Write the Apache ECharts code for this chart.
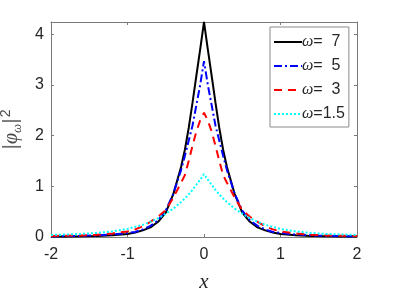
<!DOCTYPE html>
<html>
<head>
<meta charset="utf-8">
<script src="https://cdn.jsdelivr.net/npm/echarts@6/dist/echarts.min.js"></script>
<style>html,body{margin:0;padding:0;background:#fff;}#c{width:395px;height:296px;}</style>
</head>
<body>
<div id="c"></div>
<script>
const xs = [-2, -1.8, -1.6, -1.4, -1.2, -1, -0.9, -0.8, -0.7, -0.6, -0.5, -0.4, -0.3, -0.25, -0.2, -0.15, -0.1, -0.05, 0,
            0.05, 0.1, 0.15, 0.2, 0.25, 0.3, 0.4, 0.5, 0.6, 0.7, 0.8, 0.9, 1, 1.2, 1.4, 1.6, 1.8, 2];
const w7  = [0.01, 0.012, 0.016, 0.022, 0.035, 0.06, 0.09, 0.13, 0.19, 0.30, 0.48, 0.85, 1.38, 1.72, 2.15, 2.65, 3.18, 3.70, 4.24,
             3.70, 3.18, 2.65, 2.15, 1.72, 1.38, 0.85, 0.48, 0.30, 0.19, 0.13, 0.09, 0.06, 0.035, 0.022, 0.016, 0.012, 0.01];
const w5  = [0.015, 0.018, 0.023, 0.032, 0.05, 0.08, 0.10, 0.15, 0.22, 0.33, 0.52, 0.86, 1.32, 1.60, 1.90, 2.20, 2.60, 3.00, 3.47,
             3.00, 2.60, 2.20, 1.90, 1.60, 1.32, 0.86, 0.52, 0.33, 0.22, 0.15, 0.10, 0.08, 0.05, 0.032, 0.023, 0.018, 0.015];
const w3  = [0.02, 0.025, 0.032, 0.045, 0.07, 0.11, 0.15, 0.21, 0.30, 0.40, 0.53, 0.78, 1.07, 1.22, 1.50, 1.80, 2.08, 2.30, 2.45,
             2.30, 2.08, 1.80, 1.50, 1.22, 1.07, 0.78, 0.53, 0.40, 0.30, 0.21, 0.15, 0.11, 0.07, 0.045, 0.032, 0.025, 0.02];
const w15 = [0.04, 0.05, 0.06, 0.08, 0.11, 0.16, 0.20, 0.24, 0.30, 0.37, 0.46, 0.56, 0.69, 0.76, 0.84, 0.93, 1.03, 1.13, 1.24,
             1.13, 1.03, 0.93, 0.84, 0.76, 0.69, 0.56, 0.46, 0.37, 0.30, 0.24, 0.20, 0.16, 0.11, 0.08, 0.06, 0.05, 0.04];
const names = ['ω=  7', 'ω=  5', 'ω=  3', 'ω=1.5'];
const xTicks = [-2, -1, 0, 1, 2];
const yTicks = [0, 1, 2, 3, 4];

const pairs = ys => xs.map((x, i) => [x, ys[i]]);
const axisColor = '#7a7a7a';
const labelColor = '#262626';
const font = 'Liberation Sans, Arial, sans-serif';
const serif = 'Liberation Serif, serif';

const chart = echarts.init(document.getElementById('c'), null, {renderer: 'canvas'});
const baseX = {
  type: 'value', min: -2, max: 2, interval: 1,
  axisLine: {show: true, onZero: false, lineStyle: {color: axisColor, width: 1}},
  axisTick: {show: true, inside: true, length: 3, lineStyle: {color: axisColor}},
  splitLine: {show: false}
};
const baseY = {
  type: 'value', min: 0, max: 4.24, interval: 1,
  axisLine: {show: true, onZero: false, lineStyle: {color: axisColor, width: 1}},
  axisTick: {show: true, inside: true, length: 3, lineStyle: {color: axisColor}},
  splitLine: {show: false}
};
const mk = (name, data, color, type) => ({
  name, type: 'line', data: pairs(data), showSymbol: false, symbol: 'none',
  lineStyle: {color, width: 2, type}, itemStyle: {color}, z: 3
});
chart.setOption({
  animation: false,
  backgroundColor: '#fff',
  grid: {left: 51, right: 38, top: 22, bottom: 59, containLabel: false, outerBoundsMode: 'none'},
  xAxis: [
    Object.assign({}, baseX, {
      position: 'bottom',
      axisLabel: {show: true, color: labelColor, fontSize: 16, fontFamily: font, margin: 10,
                  formatter: v => xTicks.includes(v) ? String(v) : ''},
      name: 'x', nameLocation: 'middle', nameGap: 35,
      nameTextStyle: {fontFamily: serif, fontStyle: 'italic', fontSize: 21, color: labelColor}
    }),
    Object.assign({}, baseX, {position: 'top', axisLabel: {show: false}})
  ],
  yAxis: [
    Object.assign({}, baseY, {
      position: 'left',
      axisLabel: {show: true, color: labelColor, fontSize: 16, fontFamily: font, margin: 7,
                  formatter: v => yTicks.includes(v) ? String(v) : ''},
      name: '{bar||}{phi|φ}{sub|ω}{bar||}{sup|2}', nameLocation: 'middle', nameRotate: 90, nameGap: 25,
      nameTextStyle: {
        color: labelColor, fontSize: 19, fontFamily: font,
        rich: {
          bar: {fontSize: 21, fontFamily: font, color: '#6a6a6a'},
          phi: {fontSize: 20, fontFamily: serif, fontStyle: 'italic', color: '#4a4a4a'},
          sub: {fontSize: 13, fontFamily: serif, fontStyle: 'italic', color: '#4a4a4a', verticalAlign: 'bottom', padding: [10, 0, 0, 0]},
          sup: {fontSize: 14, fontFamily: font, color: '#4a4a4a', verticalAlign: 'top', padding: [0, 0, 11, 1]}
        }
      }
    }),
    Object.assign({}, baseY, {position: 'right', axisLabel: {show: false}})
  ],
  legend: {
    left: 270, top: 27, orient: 'vertical',
    itemWidth: 28, itemHeight: 10, itemGap: 8,
    padding: [7, 4, 5, 3],
    borderColor: '#8a8a8a', borderWidth: 1, backgroundColor: '#fff',
    itemStyle: {opacity: 0},
    textStyle: {fontSize: 16, fontFamily: font, color: labelColor, padding: [0, 0, 0, -5],
                rich: {w: {fontSize: 16, fontFamily: serif, fontStyle: 'italic', color: labelColor}}},
    formatter: n => '{w|ω}' + n.slice(1),
    data: names
  },
  series: [
    mk(names[0], w7, '#000000', 'solid'),
    mk(names[1], w5, '#0000ff', [8, 3, 2, 3]),
    mk(names[2], w3, '#ff0000', [8, 6]),
    mk(names[3], w15, '#00ffff', [2, 2])
  ]
});
</script>
</body>
</html>
